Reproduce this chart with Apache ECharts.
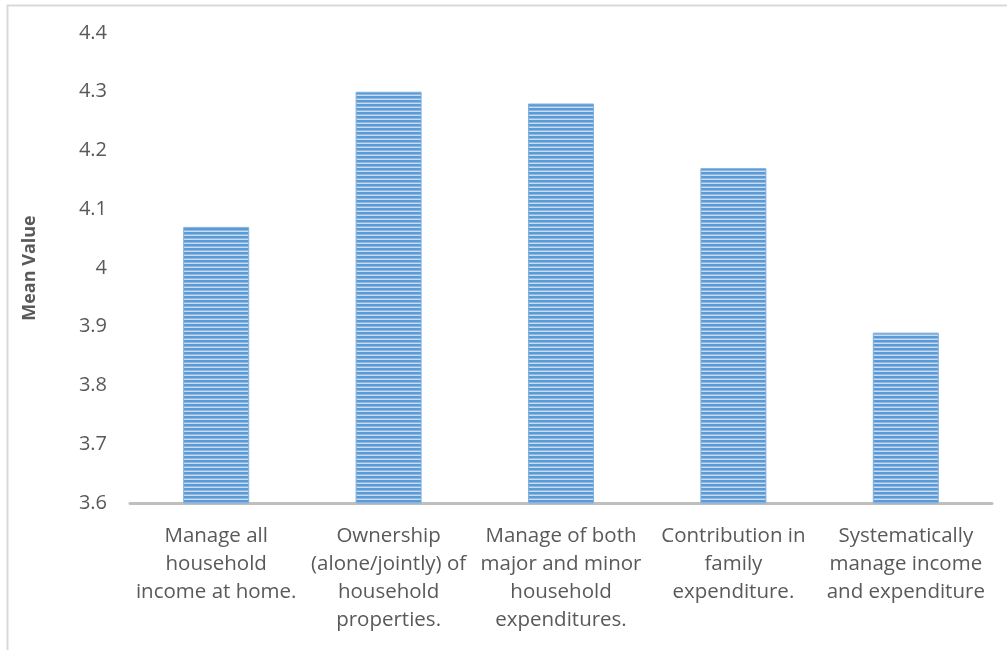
<!DOCTYPE html>
<html>
<head>
<meta charset="utf-8">
<script src="https://cdn.jsdelivr.net/npm/echarts@6/dist/echarts.min.js"></script>
<style>
  html, body { margin: 0; padding: 0; background: #fff; }
  #chart { width: 1007px; height: 650px; }
</style>
</head>
<body>
<div id="chart"></div>
<script>
// Household financial management items and their mean scores
const categories = [
  'Manage all\nhousehold\nincome at home.',
  'Ownership\n(alone/jointly) of\nhousehold\nproperties.',
  'Manage of both\nmajor and minor\nhousehold\nexpenditures.',
  'Contribution in\nfamily\nexpenditure.',
  'Systematically\nmanage income\nand expenditure'
];
const meanValues = [4.07, 4.30, 4.28, 4.17, 3.89];
const yTicks = { min: 3.6, max: 4.4, step: 0.1 };

// Horizontal-stripe fill for the bars
function stripePattern() {
  const c = document.createElement('canvas');
  c.width = 4; c.height = 4;
  const ctx = c.getContext('2d');
  ctx.fillStyle = '#5b9bd5';
  ctx.fillRect(0, 0, 4, 2);
  ctx.fillStyle = '#8db8e3';
  ctx.fillRect(0, 2, 4, 1);
  ctx.fillStyle = '#c9dcf2';
  ctx.fillRect(0, 3, 4, 1);
  return c;
}

const chart = echarts.init(document.getElementById('chart'));
const font = '"Open Sans", Lato, sans-serif';

chart.setOption({
  animation: false,
  backgroundColor: '#fff',
  graphic: [{
    type: 'rect',
    shape: { x: 7.5, y: 5.5, width: 1100, height: 800 },
    style: { fill: 'none', stroke: '#d9d9d9', lineWidth: 2 },
    silent: true
  }],
  grid: { left: 130, right: 15, top: 33, bottom: 147 },
  xAxis: {
    type: 'category',
    data: categories,
    axisLine: { lineStyle: { color: '#bfbfbf', width: 3 } },
    axisTick: { show: false },
    axisLabel: {
      interval: 0,
      color: '#595959',
      fontFamily: font,
      fontSize: 20.5,
      lineHeight: 28,
      margin: 19
    }
  },
  yAxis: {
    type: 'value',
    min: yTicks.min,
    max: yTicks.max,
    interval: yTicks.step,
    name: 'Mean Value',
    nameLocation: 'middle',
    nameGap: 91,
    nameTextStyle: {
      color: '#595959',
      fontFamily: font,
      fontSize: 18,
      fontWeight: 'bold'
    },
    axisLine: { show: false },
    axisTick: { show: false },
    splitLine: { show: false },
    axisLabel: {
      color: '#595959',
      fontFamily: font,
      fontSize: 20,
      margin: 23,
      formatter: v => String(parseFloat(v.toFixed(1)))
    }
  },
  series: [{
    type: 'bar',
    data: meanValues,
    barWidth: 66,
    itemStyle: {
      color: { image: stripePattern(), repeat: 'repeat' },
      borderColor: '#7eb0e0',
      borderWidth: 1
    }
  }]
});
</script>
</body>
</html>
